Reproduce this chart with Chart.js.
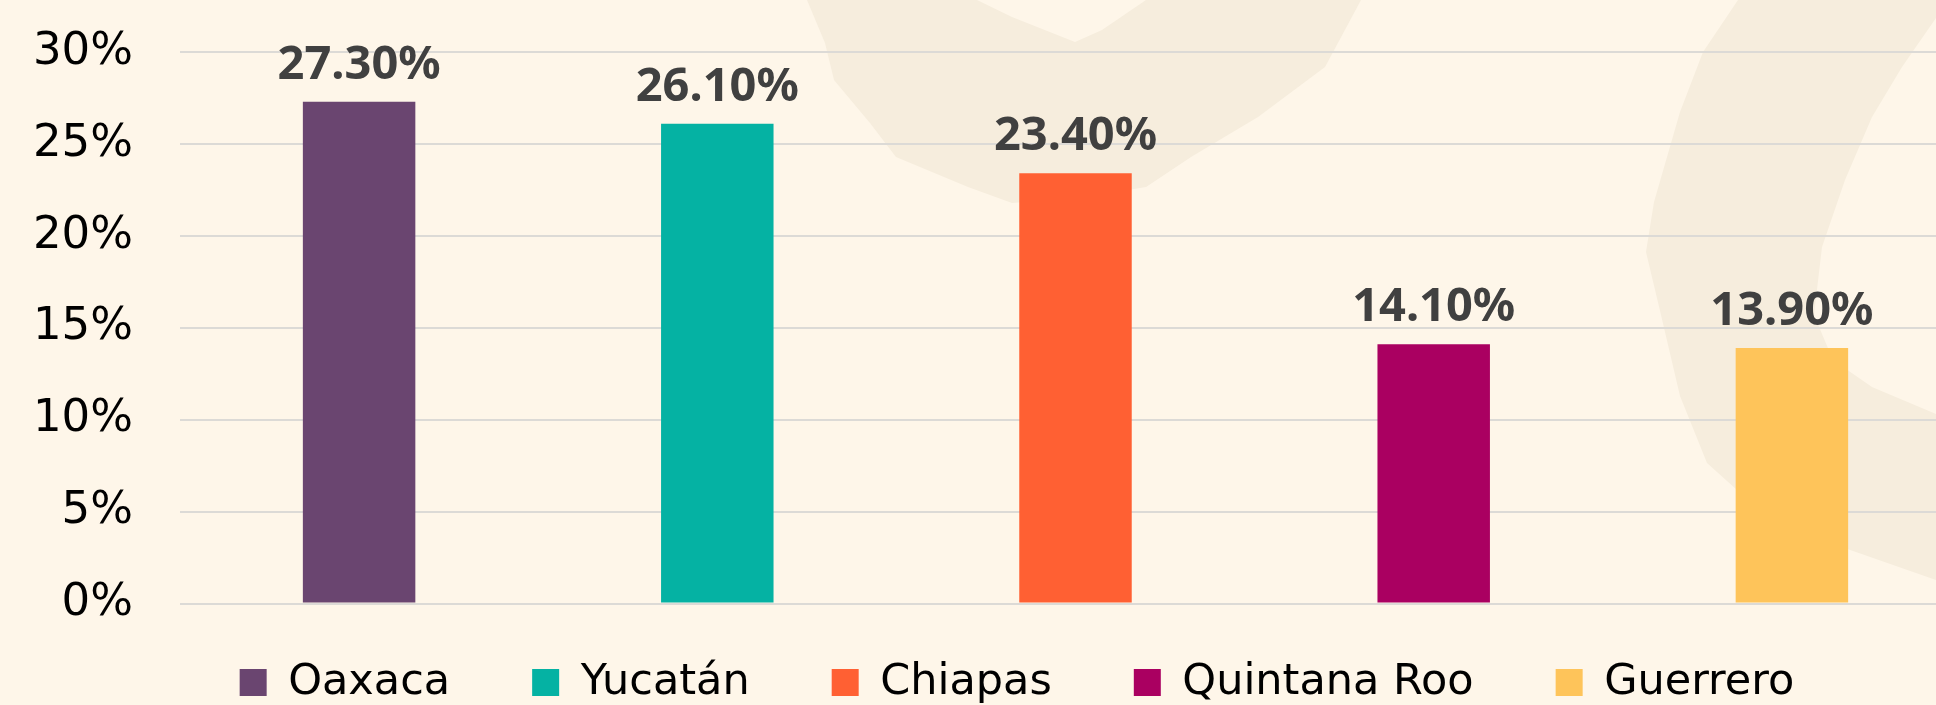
<!DOCTYPE html>
<html>
<head>
<meta charset="utf-8">
<script src="https://cdn.jsdelivr.net/npm/chart.js@4.4.1/dist/chart.umd.min.js"></script>
<style>
  html, body { margin: 0; padding: 0; background: #FEF6E9; overflow: hidden; width: 1936px; height: 705px; }
  #wrap { position: absolute; left: 0; top: 0; width: 1980px; height: 705px; }
</style>
</head>
<body>
<div id="wrap"><canvas id="c"></canvas></div>
<script>
const categories = ['Oaxaca', 'Yucatán', 'Chiapas', 'Quintana Roo', 'Guerrero'];
const values = [27.3, 26.1, 23.4, 14.1, 13.9];
const barColors = ['#6A4570', '#05B2A3', '#FF6033', '#AA0061', '#FEC45A'];
const yTicks = [0, 5, 10, 15, 20, 25, 30];

const LEGEND_PAD = 82;
const LEGEND_FONT = 43;

const bgPlugin = {
  id: 'bg',
  beforeDraw(chart) {
    const ctx = chart.ctx;
    ctx.save();
    ctx.fillStyle = '#FEF6E9';
    ctx.fillRect(0, 0, chart.width, chart.height);
    ctx.fillStyle = '#F6EDDD';
    const poly = pts => {
      ctx.beginPath();
      pts.forEach((p, i) => i ? ctx.lineTo(p[0], p[1]) : ctx.moveTo(p[0], p[1]));
      ctx.closePath();
      ctx.fill();
    };
    poly([[807,0],[825,43],[834,80],[870,123],[896,157],[968,187],[1012,203],[1080,198],[1146,187],[1191,157],
          [1258,117],[1325,67],[1361,0],[1146,0],[1102,30],[1075,42],[1012,17],[977,0]]);
    poly([[1738,0],[1703,52],[1680,112],[1654,202],[1646,252],[1661,315],[1680,396],[1707,463],[1757,508],[1833,544],
          [1936,580],[1990,595],[1990,425],[1936,414],[1872,387],[1833,360],[1814,315],[1822,247],[1845,180],[1872,117],
          [1902,67],[1936,18],[1950,0]]);
    ctx.restore();
  }
};

// place the legend row where the reference has it
const legendPlace = {
  id: 'legendPlace',
  afterLayout(chart) {
    const L = chart.legend;
    if (!L) return;
    const dy = 682.5 - (L.top + LEGEND_PAD + LEGEND_FONT / 2);
    L.top += dy; L.bottom += dy;
    const dx = 1017 - (L.left + L.right) / 2;
    L.left += dx; L.right += dx;
  }
};

const labelPlugin = {
  id: 'valueLabels',
  afterDatasetsDraw(chart) {
    const ctx = chart.ctx;
    const meta = chart.getDatasetMeta(0);
    ctx.save();
    ctx.font = 'bold 47px "Noto Sans"';
    ctx.fillStyle = '#404040';
    ctx.textAlign = 'center';
    ctx.textBaseline = 'alphabetic';
    meta.data.forEach((bar, i) => {
      ctx.fillText(values[i].toFixed(2) + '%', bar.x, bar.y - 23);
    });
    ctx.restore();
  }
};

new Chart(document.getElementById('c'), {
  type: 'bar',
  data: {
    labels: categories,
    datasets: [{
      data: values,
      backgroundColor: barColors,
      borderWidth: 0,
      barPercentage: 0.314,
      categoryPercentage: 1
    }]
  },
  options: {
    responsive: true,
    maintainAspectRatio: false,
    animation: false,
    events: [],
    layout: { padding: { left: 28, right: 9, top: 52, bottom: 38.5 - LEGEND_PAD } },
    plugins: {
      tooltip: { enabled: false },
      legend: {
        position: 'bottom',
        labels: {
          boxWidth: 27,
          boxHeight: 27,
          padding: LEGEND_PAD,
          color: '#000000',
          font: { family: '"DejaVu Sans"', size: LEGEND_FONT },
          generateLabels(chart) {
            return categories.map((c, i) => ({
              text: c,
              fillStyle: barColors[i],
              strokeStyle: barColors[i],
              lineWidth: 0,
              index: i,
              hidden: false
            }));
          }
        }
      }
    },
    scales: {
      x: {
        afterFit(scale) { scale.height = 10; },
        ticks: { display: false },
        grid: { display: false },
        border: { display: false }
      },
      y: {
        min: 0,
        max: 30,
        afterFit(scale) { scale.width = 152; },
        afterBuildTicks(scale) { scale.ticks = yTicks.map(v => ({ value: v })); },
        ticks: {
          padding: 0,
          color: '#000000',
          font: { family: '"DejaVu Sans"', size: 45 },
          callback: v => v + '%'
        },
        grid: { color: '#DCDAD6', lineWidth: 2, drawTicks: true, tickLength: 47, tickColor: 'rgba(0,0,0,0)' },
        border: { display: false }
      }
    }
  },
  plugins: [bgPlugin, legendPlace, labelPlugin]
});
</script>
</body>
</html>
